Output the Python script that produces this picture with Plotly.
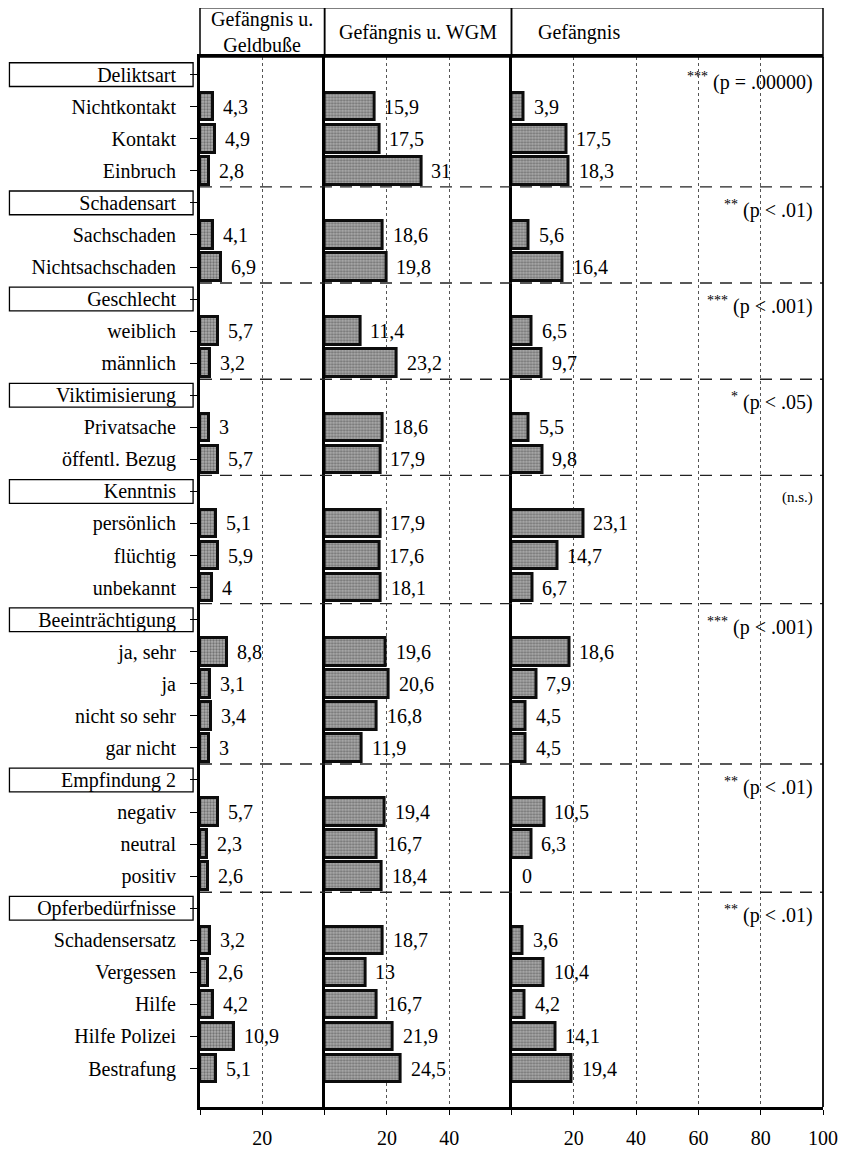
import plotly.graph_objects as go
from plotly.subplots import make_subplots

# ---------------- data ----------------
groups = ["Deliktsart", "Schadensart", "Geschlecht", "Viktimisierung", "Kenntnis",
          "Beeinträchtigung", "Empfindung 2", "Opferbedürfnisse"]
items = [
    ["Nichtkontakt", "Kontakt", "Einbruch"],
    ["Sachschaden", "Nichtsachschaden"],
    ["weiblich", "männlich"],
    ["Privatsache", "öffentl. Bezug"],
    ["persönlich", "flüchtig", "unbekannt"],
    ["ja, sehr", "ja", "nicht so sehr", "gar nicht"],
    ["negativ", "neutral", "positiv"],
    ["Schadensersatz", "Vergessen", "Hilfe", "Hilfe Polizei", "Bestrafung"],
]
geldbusse = [[4.3, 4.9, 2.8], [4.1, 6.9], [5.7, 3.2], [3, 5.7], [5.1, 5.9, 4],
             [8.8, 3.1, 3.4, 3], [5.7, 2.3, 2.6], [3.2, 2.6, 4.2, 10.9, 5.1]]
wgm = [[15.9, 17.5, 31], [18.6, 19.8], [11.4, 23.2], [18.6, 17.9], [17.9, 17.6, 18.1],
       [19.6, 20.6, 16.8, 11.9], [19.4, 16.7, 18.4], [18.7, 13, 16.7, 21.9, 24.5]]
gefaengnis = [[3.9, 17.5, 18.3], [5.6, 16.4], [6.5, 9.7], [5.5, 9.8], [23.1, 14.7, 6.7],
              [18.6, 7.9, 4.5, 4.5], [10.5, 6.3, 0], [3.6, 10.4, 4.2, 14.1, 19.4]]
stars = ["***", "**", "***", "*", "", "***", "**", "**"]
pvalues = ["(p = .00000)", "(p < .01)", "(p < .001)", "(p < .05)", "(n.s.)",
           "(p < .001)", "(p < .01)", "(p < .01)"]
panel_titles = ["Gefängnis u.<br>Geldbuße", "Gefängnis u. WGM", "Gefängnis"]
x_ranges = [[0, 40], [0, 60], [0, 100]]
x_ticks = [[0, 20], [0, 20, 40], [0, 20, 40, 60, 80, 100]]

# ---------------- layout constants ----------------
BODY = 8  # default page margin of the html body
W, H = 850 - BODY, 1161 - BODY
ML, MR, MT, MB = 200 - BODY, 19, 57 - BODY, 36
PW, PH = W - ML - MR, H - MT - MB
FONT = "Liberation Serif"
FS = 20

# row positions
labels, header_pos, item_pos = [], [], []
pos = 0
for g, its in zip(groups, items):
    header_pos.append(pos)
    labels.append(g)
    pos += 1
    for it in its:
        item_pos.append(pos)
        labels.append(it)
        pos += 1
n_rows = pos

fig = make_subplots(rows=1, cols=3, shared_yaxes=True, horizontal_spacing=0,
                    column_widths=[r[1] - r[0] for r in x_ranges])

def fmt(v):
    return f"{v:g}".replace(".", ",")

annotations = []
for col, vals in enumerate([geldbusse, wgm, gefaengnis], start=1):
    flat = [v for grp in vals for v in grp]
    fig.add_trace(go.Bar(
        x=flat, y=item_pos, orientation="h", width=0.86,
        marker=dict(color="#9a9a9a",
                    line=dict(color="#0d0d0d", width=[3 if v > 0 else 0 for v in flat]),
                    pattern=dict(shape=".", fgcolor="#3a3a3a", bgcolor="#acacac",
                                 size=3, solidity=0.45)),
        showlegend=False, hoverinfo="skip"), row=1, col=col)
    xr = "x" if col == 1 else f"x{col}"
    yr = "y" if col == 1 else f"y{col}"
    for v, p in zip(flat, item_pos):
        annotations.append(dict(x=v, y=p, xref=xr, yref=yr, text=fmt(v),
                                showarrow=False, xanchor="left", yanchor="middle",
                                xshift=8, font=dict(family=FONT, size=FS, color="black")))

# significance notes
for hp, st, pv in zip(header_pos, stars, pvalues):
    if st:
        txt = f"<sup>{st}</sup> {pv}"
        size = FS
    else:
        txt = pv
        size = 15
    annotations.append(dict(x=100, y=hp + 0.2, xref="x3", yref="y3", text=txt,
                            showarrow=False, xanchor="right", yanchor="middle",
                            xshift=-8, font=dict(family=FONT, size=size, color="black")))

shapes = []
# header boxes above panels
top = 1 + 50 / PH
for i, title in enumerate(panel_titles, start=1):
    dom = fig.layout[f"xaxis{'' if i == 1 else i}"].domain
    shapes.append(dict(type="rect", xref="paper", yref="paper", x0=dom[0], x1=dom[1],
                       y0=1, y1=top, line=dict(color="black", width=1.5)))
    if i < 3:
        annotations.append(dict(x=(dom[0] + dom[1]) / 2, y=(1 + top) / 2, xref="paper",
                                yref="paper", text=title, showarrow=False,
                                xanchor="center", yanchor="middle",
                                font=dict(family=FONT, size=FS, color="black")))
    else:
        annotations.append(dict(x=dom[0], y=(1 + top) / 2, xref="paper", yref="paper",
                                text=title, showarrow=False, xanchor="left",
                                yanchor="middle", xshift=24,
                                font=dict(family=FONT, size=FS, color="black")))

# boxes around group labels
bx0 = (7 - 200) / PW
bx1 = (193 - 200) / PW
for hp in header_pos:
    shapes.append(dict(type="rect", xref="paper", yref="y", x0=bx0, x1=bx1,
                       y0=hp - 0.37, y1=hp + 0.37, line=dict(color="black", width=1.3)))
# dashed separators
for hp in header_pos[1:]:
    shapes.append(dict(type="line", xref="paper", yref="y", x0=0, x1=1,
                       y0=hp - 0.5, y1=hp - 0.5,
                       line=dict(color="#222222", width=1.4, dash="12px,8px")))
# right border
shapes.append(dict(type="line", xref="paper", yref="paper", x0=1, x1=1, y0=0, y1=1,
                   line=dict(color="black", width=1.8)))

fig.update_layout(
    width=W, height=H, margin=dict(l=ML, r=MR, t=MT, b=MB),
    paper_bgcolor="white", plot_bgcolor="white", bargap=0,
    font=dict(family=FONT, size=FS, color="black"),
    annotations=annotations, shapes=shapes, showlegend=False,
)

for i in range(1, 4):
    key = "" if i == 1 else str(i)
    tv = x_ticks[i - 1]
    fig.layout[f"xaxis{key}"].update(
        range=x_ranges[i - 1], tickmode="array", tickvals=tv,
        ticktext=["" if t == 0 else str(t) for t in tv],
        showgrid=True, gridcolor="#555555", gridwidth=1, griddash="dot",
        zeroline=False, showline=True, linecolor="black", linewidth=2.5, mirror=True,
        ticks="outside", ticklen=5, tickwidth=1.3, tickcolor="black",
        ticklabelstandoff=6,
        tickfont=dict(family=FONT, size=FS, color="black"))
    fig.layout[f"yaxis{key}"].update(
        range=[n_rows + 0.2, -0.55], showgrid=False, zeroline=False,
        showline=True, linecolor="black", linewidth=3, showticklabels=(i == 1))

fig.layout.yaxis.update(
    tickmode="array", tickvals=list(range(n_rows)), ticktext=labels,
    ticks="outside", ticklen=7, tickwidth=1.3, tickcolor="black",
    ticklabelstandoff=10, tickfont=dict(family=FONT, size=FS, color="black"))

fig.write_html("out.html")
